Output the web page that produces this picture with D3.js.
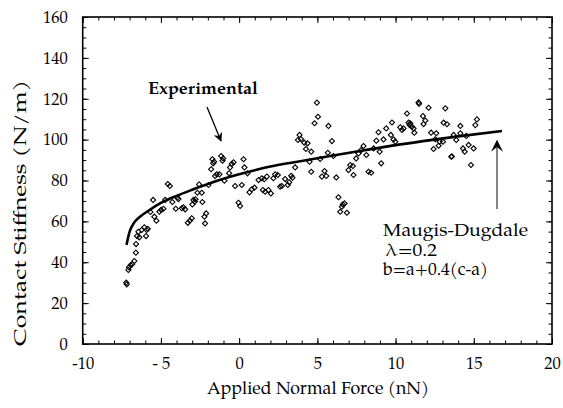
<!DOCTYPE html>
<html>
<head>
<meta charset="utf-8">
<script src="https://cdn.jsdelivr.net/npm/d3@7"></script>
<style>
  html, body { margin: 0; padding: 0; background: #fff; }
  svg { display: block; }
</style>
</head>
<body>
<svg id="chart" width="563" height="408"></svg>
<script>
// ---- data ----
const xTickValues = [-10, -5, 0, 5, 10, 15, 20];
const xTickLabels = ["-10", "- 5", "0", "5", "10", "15", "20"];
const yTickValues = [0, 20, 40, 60, 80, 100, 120, 140, 160];
const yTickLabels = ["0", "20", "40", "60", "80", "100", "120", "140", "160"];

// experimental points: applied normal force (nN)
const expForce = [
  -7.22,-7.18,-7.08,-7.04,-6.93,-6.83,-6.70,-6.60,-6.59,
  -6.53,-6.44,-6.23,-6.06,-5.91,-5.84,-5.95,-6.38,
  -5.50,-5.67,-5.42,-5.29,-5.10,-4.99,-4.84,-4.56,-4.43,-4.73,
  -4.27,-4.05,-3.95,-3.88,-3.67,-3.56,-3.45,-3.28,-3.15,-3.03,-2.99,
  -2.92,-2.83,-2.79,-2.67,-2.39,-2.35,-2.22,-2.11,-2.18,-2.56,-1.96,
  -1.79,-1.71,-1.60,-1.66,-1.54,-1.43,-1.26,-1.15,-1.02,-1.06,-0.94,
  -0.64,-0.58,-0.47,-0.36,-0.26,0.17,0.28,0.34,0.53,-0.04,0.06,
  0.66,0.81,0.98,1.24,1.45,1.60,1.52,1.66,1.77,
  1.87,2.03,2.19,2.30,2.47,2.62,2.73,2.94,3.11,3.20,3.33,3.41,3.58,
  3.76,3.86,3.95,4.16,4.37,4.27,4.61,4.50,4.61,4.82,4.97,5.04,5.18,
  5.29,5.46,5.57,5.67,5.71,5.93,6.03,6.21,
  6.35,6.46,6.57,6.63,6.74,6.89,
  6.99,7.10,7.27,7.31,7.48,7.63,7.80,7.95,8.13,8.27,8.44,8.60,
  8.77,8.91,8.98,9.08,9.23,9.40,9.70,9.77,9.87,9.98,
  10.30,10.41,10.51,10.73,10.83,10.94,10.90,11.05,11.15,11.20,
  11.47,11.50,11.75,11.79,11.90,
  12.11,13.18,13.07,13.29,14.14,15.10,15.20,12.27,12.60,
  13.71,14.14,14.52,12.54,12.82,13.03,13.88,12.43,12.75,
  14.31,14.42,14.67,14.99,13.56,13.60,14.82
];
// experimental points: contact stiffness (N/m)
const expStiffness = [
  30.0,29.2,36.2,37.5,38.6,39.1,40.6,44.7,48.9,
  52.8,54.9,55.8,57.1,55.8,56.4,52.8,52.2,
  70.5,64.6,62.3,60.3,64.7,65.6,66.2,78.3,77.3,70.5,
  69.5,66.2,71.6,70.9,66.4,66.9,65.9,59.3,60.3,61.5,68.3,
  70.5,69.6,70.8,74.0,74.0,69.5,62.3,63.9,59.0,78.1,77.8,
  85.5,90.4,89.2,88.4,82.2,83.0,83.0,92.0,90.8,89.7,79.9,
  83.5,86.4,88.1,88.9,77.3,77.8,90.4,86.4,83.5,69.1,67.5,
  74.2,75.7,76.5,80.2,81.1,80.6,75.3,74.5,81.9,
  75.3,73.7,81.1,83.0,82.7,77.0,77.3,80.7,77.8,79.1,82.3,81.4,86.4,
  99.8,102.3,100.3,98.5,98.2,95.4,94.1,89.2,84.3,108.0,118.1,111.2,90.5,
  81.9,84.6,82.2,93.6,106.7,99.3,92.0,81.5,
  71.8,64.7,67.2,68.3,68.8,64.2,
  85.1,87.6,87.1,82.7,90.8,93.2,94.9,96.9,92.5,84.3,83.8,95.7,
  99.5,103.6,94.1,88.4,100.1,105.5,102.3,108.4,100.1,99.0,
  106.0,104.7,105.5,112.8,108.3,108.0,107.1,106.3,105.5,103.4,
  118.2,117.5,111.5,107.6,109.3,
  115.6,115.3,108.3,107.5,106.7,107.1,109.9,103.4,103.1,
  102.3,103.1,101.8,100.2,99.0,99.0,99.8,95.4,97.0,
  95.7,94.1,97.4,95.7,91.6,91.8,87.6
];

// Maugis-Dugdale model curve
const modelForce = [-7.2,-7.0,-6.7,-6.3,-5.8,-5.0,-4.0,-3.0,-2.0,-1.0,0,1,2,4,6,8,10,12,14,16.8];
const modelStiffness = [48.5,55,59.5,62.5,65.2,69,72.5,75.5,78.3,80.8,83,85,86.8,89.5,92.2,94.8,97.3,99.5,101.6,104.2];

// ---- layout ----
const svg = d3.select("#chart");
const pL = 82.7, pR = 552, pT = 17, pB = 344;
const x = d3.scaleLinear().domain([-10, 20]).range([pL, pR]);
const y = d3.scaleLinear().domain([0, 160]).range([pB, pT]);

const fontStack = '"TeX Gyre Pagella", "Liberation Serif", serif';

function styleAxis(g) {
  g.select(".domain").remove();
  g.selectAll(".tick line").attr("stroke", "#000").attr("stroke-width", 1);
  g.selectAll(".tick text").attr("font-family", fontStack).attr("fill", "#000");
}

// minor ticks
svg.append("g").attr("transform", `translate(0,${pB})`)
  .call(d3.axisBottom(x).tickValues(d3.range(-10, 21, 1)).tickSize(-3.5).tickFormat(""))
  .call(styleAxis);
svg.append("g").attr("transform", `translate(0,${pT})`)
  .call(d3.axisTop(x).tickValues(d3.range(-10, 21, 1)).tickSize(-3.5).tickFormat(""))
  .call(styleAxis);
svg.append("g").attr("transform", `translate(${pL},0)`)
  .call(d3.axisLeft(y).tickValues(d3.range(0, 161, 5)).tickSize(-3.5).tickFormat(""))
  .call(styleAxis);
svg.append("g").attr("transform", `translate(${pR},0)`)
  .call(d3.axisRight(y).tickValues(d3.range(0, 161, 5)).tickSize(-3.5).tickFormat(""))
  .call(styleAxis);

// major ticks with labels
const xAxis = svg.append("g").attr("transform", `translate(0,${pB})`)
  .call(d3.axisBottom(x).tickValues(xTickValues).tickSize(-6).tickPadding(13)
    .tickFormat((d, i) => xTickLabels[i]))
  .call(styleAxis);
xAxis.selectAll(".tick text").attr("font-size", 16.5).attr("xml:space", "preserve")
  .style("white-space", "pre");

const yAxis = svg.append("g").attr("transform", `translate(${pL},0)`)
  .call(d3.axisLeft(y).tickValues(yTickValues).tickSize(-6).tickPadding(15)
    .tickFormat((d, i) => yTickLabels[i]))
  .call(styleAxis);
yAxis.selectAll(".tick text").attr("font-size", 16.5);

svg.append("g").attr("transform", `translate(0,${pT})`)
  .call(d3.axisTop(x).tickValues(xTickValues).tickSize(-6).tickFormat(""))
  .call(styleAxis);
svg.append("g").attr("transform", `translate(${pR},0)`)
  .call(d3.axisRight(y).tickValues(yTickValues).tickSize(-6).tickFormat(""))
  .call(styleAxis);

// frame
svg.append("rect").attr("x", pL).attr("y", pT)
  .attr("width", pR - pL).attr("height", pB - pT)
  .attr("fill", "none").attr("stroke", "#000").attr("stroke-width", 1.6);

// axis titles
svg.append("text").attr("x", 318).attr("y", 394)
  .attr("font-family", fontStack)
  .attr("text-anchor", "middle").attr("font-size", 17.5)
  .attr("textLength", 222).attr("lengthAdjust", "spacingAndGlyphs")
  .text("Applied Normal Force (nN)");
svg.append("text").attr("transform", "translate(26,213) rotate(-90)")
  .attr("font-family", fontStack)
  .attr("text-anchor", "middle").attr("font-size", 17.5)
  .attr("textLength", 266).attr("lengthAdjust", "spacingAndGlyphs")
  .text("Contact Stiffness (N/m)");

// model curve
const pts = modelForce.map((f, i) => [f, modelStiffness[i]]);
svg.append("path").datum(pts)
  .attr("d", d3.line().x(d => x(d[0])).y(d => y(d[1])).curve(d3.curveMonotoneX))
  .attr("fill", "none").attr("stroke", "#000").attr("stroke-width", 2.6);

// experimental points (open diamonds)
const diamond = d3.symbol().type(d3.symbolSquare).size(13)();
svg.append("g").selectAll("path").data(expForce.map((f, i) => [f, expStiffness[i]]))
  .join("path")
  .attr("d", diamond)
  .attr("transform", d => `translate(${x(d[0])},${y(d[1])}) rotate(45)`)
  .attr("fill", "none").attr("stroke", "#000").attr("stroke-width", 1.1);

// annotations
const defs = svg.append("defs");
defs.append("marker").attr("id", "head")
  .attr("viewBox", "0 0 10 10").attr("refX", 9).attr("refY", 5)
  .attr("markerWidth", 11).attr("markerHeight", 9).attr("markerUnits", "userSpaceOnUse")
  .attr("orient", "auto")
  .append("path").attr("d", "M0,0 L10,5 L0,10 L3,5 Z").attr("fill", "#000");
defs.append("marker").attr("id", "head2")
  .attr("viewBox", "0 0 10 10").attr("refX", 9).attr("refY", 5)
  .attr("markerWidth", 18).attr("markerHeight", 12).attr("markerUnits", "userSpaceOnUse")
  .attr("orient", "auto")
  .append("path").attr("d", "M0,0 L10,5 L0,10 L4,5 Z").attr("fill", "#000");

svg.append("text").attr("x", 148).attr("y", 94).attr("font-size", 17)
  .attr("font-family", fontStack).attr("font-weight", "bold")
  .attr("textLength", 110).attr("lengthAdjust", "spacingAndGlyphs")
  .text("Experimental");
svg.append("line").attr("x1", 207).attr("y1", 107).attr("x2", 221).attr("y2", 141)
  .attr("stroke", "#000").attr("stroke-width", 1.3).attr("marker-end", "url(#head)");

svg.append("line").attr("x1", 497).attr("y1", 209).attr("x2", 497).attr("y2", 141)
  .attr("stroke", "#666").attr("stroke-width", 1.6).attr("marker-end", "url(#head2)");

svg.append("text").attr("x", 383).attr("y", 236).attr("font-size", 17.5)
  .attr("font-family", fontStack)
  .attr("textLength", 145).attr("lengthAdjust", "spacingAndGlyphs")
  .text("Maugis-Dugdale");
svg.append("text").attr("x", 386).attr("y", 256).attr("font-size", 17.5)
  .attr("font-family", fontStack)
  .attr("textLength", 51).attr("lengthAdjust", "spacingAndGlyphs")
  .text("λ=0.2");
svg.append("text").attr("x", 383).attr("y", 275).attr("font-size", 17.5)
  .attr("font-family", fontStack)
  .attr("textLength", 105).attr("lengthAdjust", "spacingAndGlyphs")
  .text("b=a+0.4(c-a)");
</script>
</body>
</html>
